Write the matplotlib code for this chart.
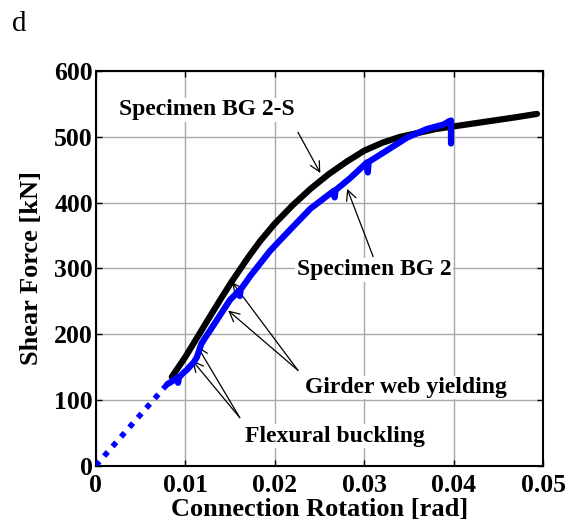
import numpy as np
import matplotlib
matplotlib.use("Agg")
import matplotlib.pyplot as plt

plt.rcParams['font.family'] = ['Liberation Serif', 'DejaVu Serif']

# Specimen BG 2-S (black)
rot_bg2s = [0.0085, 0.0100, 0.0113, 0.0125, 0.0139, 0.0152, 0.0171, 0.0184,
            0.0200, 0.0220, 0.0240, 0.0260, 0.0280, 0.0300, 0.0320, 0.0340,
            0.0360, 0.0380, 0.0400, 0.0440, 0.0470, 0.0493]
shear_bg2s = [135, 165, 194, 221, 252, 280, 318, 342,
              368, 396, 421, 443, 462, 479, 491, 500,
              506, 512, 516, 524, 530, 535]

# Specimen BG 2 (blue), initial elastic part
rot_bg2_init = [0.0, 0.0080]
shear_bg2_init = [0, 124]

# Specimen BG 2 (blue)
rot_bg2 = [0.0080, 0.0085, 0.0091, 0.0092, 0.0093, 0.0097, 0.0102, 0.0110,
           0.0113, 0.0118, 0.0122, 0.0128, 0.0139, 0.0150, 0.0160, 0.0161,
           0.0162, 0.0173, 0.0195, 0.0218, 0.0240, 0.0266, 0.0267, 0.0268,
           0.0284, 0.0303, 0.0304, 0.0305, 0.0326, 0.0348, 0.0370, 0.0389,
           0.0395, 0.0397, 0.0397]
shear_bg2 = [124, 128, 134, 126, 134, 140, 146, 158,
             165, 185, 194, 206, 229, 252, 266, 258,
             268, 289, 327, 360, 391, 418, 408, 419,
             437, 461, 446, 462, 480, 499, 512, 519,
             524, 525, 490]

fig = plt.figure(figsize=(5.73, 5.31), dpi=100)
ax = fig.add_axes([0.167, 0.123, 0.781, 0.743])

ax.plot(rot_bg2_init, shear_bg2_init, color='blue', lw=4, ls=(0, (1, 1.3)),
        zorder=3)
ax.plot(rot_bg2s, shear_bg2s, color='black', lw=4.5, zorder=4,
        solid_capstyle='round')
ax.plot(rot_bg2, shear_bg2, color='blue', lw=4.5, zorder=5,
        solid_capstyle='round')

ax.set_xlim(0, 0.05)
ax.set_ylim(0, 600)
ax.set_xticks([0, 0.01, 0.02, 0.03, 0.04, 0.05])
ax.set_xticklabels(['0', '0.01', '0.02', '0.03', '0.04', '0.05'])
ax.set_yticks([0, 100, 200, 300, 400, 500, 600])
ax.grid(True, color='#a8a8a8', lw=1.0, zorder=0)
ax.tick_params(direction='in', top=True, right=True, length=4, width=1,
               labelsize=18.5, pad=2)
ax.tick_params(axis='x', pad=6)
for lbl in ax.get_xticklabels() + ax.get_yticklabels():
    lbl.set_fontweight('bold')
for s in ax.spines.values():
    s.set_linewidth(1.5)

ax.set_xlabel('Connection Rotation [rad]', fontsize=19, fontweight='bold',
              labelpad=1)
ax.set_ylabel('Shear Force [kN]', fontsize=19, fontweight='bold', labelpad=8)

box = dict(facecolor='white', edgecolor='none', pad=1)
arw = dict(arrowstyle='->', color='black', lw=0.9,
           shrinkA=0, shrinkB=0, mutation_scale=18)
tfont = dict(fontsize=17, fontweight='bold', ha='center', va='center', bbox=box,
             zorder=6)

ax.text(0.0124, 541, 'Specimen BG 2-S', **tfont)
ax.annotate('', xy=(0.0251, 445), xytext=(0.0226, 507), arrowprops=arw)

ax.text(0.0311, 298, 'Specimen BG 2', **tfont)
ax.annotate('', xy=(0.0281, 421), xytext=(0.0310, 318), arrowprops=arw)

ax.text(0.0347, 119, 'Girder web yielding', **tfont)
ax.annotate('', xy=(0.01525, 279), xytext=(0.0226, 145), arrowprops=arw)
ax.annotate('', xy=(0.0148, 236), xytext=(0.0226, 145), arrowprops=arw)

ax.text(0.0267, 45, 'Flexural buckling', **tfont)
ax.annotate('', xy=(0.01134, 182), xytext=(0.0161, 73), arrowprops=arw)
ax.annotate('', xy=(0.0108, 160), xytext=(0.0161, 73), arrowprops=arw)

fig.text(0.021, 0.955, 'd', fontsize=21, ha='left', va='center')

fig.savefig('out.png', dpi=100)
